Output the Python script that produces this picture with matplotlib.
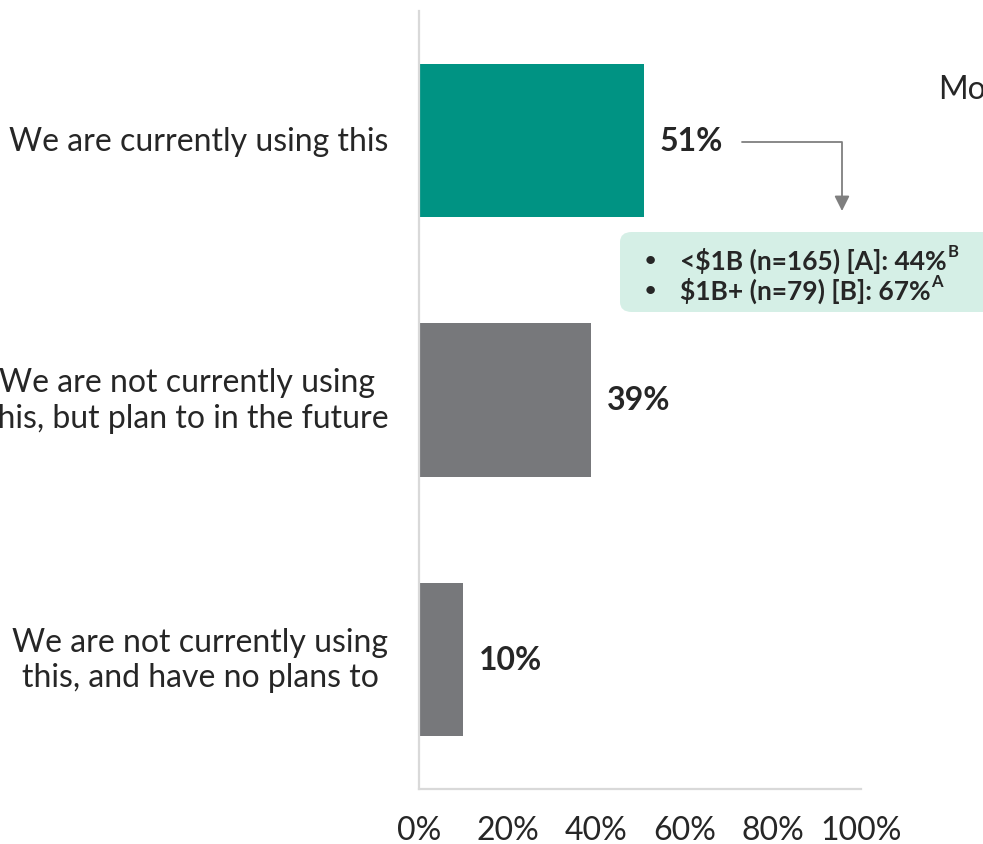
import matplotlib.pyplot as plt
from matplotlib.patches import FancyBboxPatch
from matplotlib.text import Annotation

W, H = 983, 845

categories = [
    "We are currently using this",
    "We are not currently using\nthis, but plan to in the future",
    "We are not currently using\nthis, and have no plans to",
]
values = [51, 39, 10]
bar_colors = ["#009383", "#77787b", "#77787b"]
x_ticks = [0, 20, 40, 60, 80, 100]
callout_lines = ["<$1B (n=165) [A]: 44%", "$1B+ (n=79) [B]: 67%"]
callout_sups = ["B", "A"]

TEXT = "#262626"
plt.rcParams["font.family"] = ["Lato", "DejaVu Sans"]


def fx(px):
    return px / W


def fy(py):
    return 1 - py / H


fig = plt.figure(figsize=(W / 100, H / 100), dpi=100)
ax = fig.add_axes([fx(419), fy(790), fx(861) - fx(419), (790 - 12) / H])
ax.patch.set_visible(False)

ypos = range(len(values))
ax.barh(ypos, values, height=0.59, color=bar_colors)
ax.set_xlim(0, 100)
ax.set_ylim(2.5, -0.5)

for i, v in enumerate(values):
    ax.annotate(f"{v}%", xy=(v, i), xytext=(11, 0), textcoords="offset points",
                va="center", ha="left", fontsize=23, fontweight="bold", color=TEXT)

for s in ["top", "right"]:
    ax.spines[s].set_visible(False)
for s in ["left", "bottom"]:
    ax.spines[s].set_color("#d9d9d9")
    ax.spines[s].set_linewidth(1.6)

ax.set_yticks([])
ax.set_xticks(x_ticks)
ax.set_xticklabels([f"{t}%" for t in x_ticks], fontsize=23, color=TEXT)
ax.tick_params(axis="x", length=0, pad=19)

# category labels sit to the left of the axis, block right-aligned
for i, c in enumerate(categories):
    ax.annotate(c, xy=(0, i), xytext=(-22, 0), textcoords="offset points",
                ha="right", va="center", multialignment="center",
                fontsize=23, color=TEXT, linespacing=1.22, annotation_clip=False)

# elbow arrow from the top bar label down to the callout
ax.annotate("", xy=(fx(842), fy(212)), xytext=(fx(742), fy(143)),
            xycoords="figure fraction", textcoords="figure fraction",
            arrowprops=dict(arrowstyle="-|>,head_length=0.9,head_width=0.45",
                            connectionstyle="angle,angleA=0,angleB=90,rad=0",
                            color="#7f7f7f", lw=1.3, shrinkA=0, shrinkB=0))

box = FancyBboxPatch((fx(620), fy(313)), fx(380), (313 - 233) / H,
                     boxstyle="round,pad=0,rounding_size=0.012",
                     transform=fig.transFigure, facecolor="#d5efe6",
                     edgecolor="none", zorder=1)
fig.add_artist(box)

for k, (line, sup) in enumerate(zip(callout_lines, callout_sups)):
    yy = fy(261 + 30 * k)
    fig.text(fx(645), yy, "•", fontsize=14, fontweight="bold", color=TEXT,
             va="center", ha="left", zorder=3)
    t = fig.text(fx(680), yy, line, fontsize=19, fontweight="bold", color=TEXT,
                 va="center", ha="left", zorder=3)
    fig.add_artist(Annotation(sup, xy=(1.0, 0.55), xycoords=t, xytext=(0.5, 0),
                              textcoords="offset points", fontsize=12,
                              fontweight="bold", color=TEXT, va="bottom",
                              ha="left", zorder=3))

fig.text(fx(938), fy(90), "Mo", fontsize=23, color=TEXT, va="center", ha="left")

fig.savefig("out.png", dpi=100)
